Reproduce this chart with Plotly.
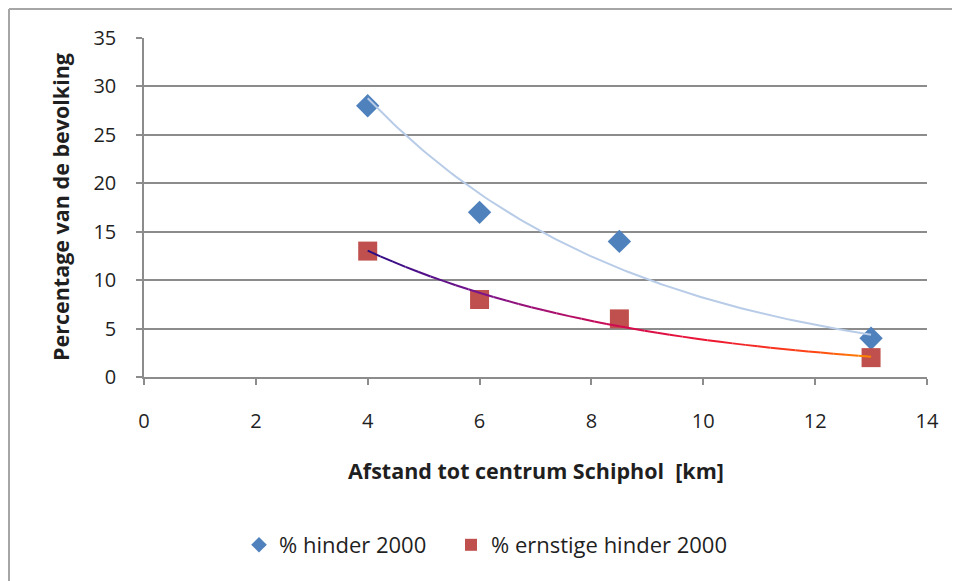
import numpy as np
import plotly.graph_objects as go

# Data
afstand = [4, 6, 8.5, 13]
hinder_2000 = [28, 17, 14, 4]
ernstige_hinder_2000 = [13, 8, 6, 2]
x_ticks = [0, 2, 4, 6, 8, 10, 12, 14]
y_ticks = [0, 5, 10, 15, 20, 25, 30, 35]

FONT = "Open Sans"
TXT = "#1f1f1f"

def exp_fit(x, y):
    x = np.asarray(x, float)
    b, a = np.polyfit(x, np.log(np.asarray(y, float)), 1)
    xs = np.linspace(x.min(), x.max(), 121)
    return xs, np.exp(a + b * xs)

fig = go.Figure()

fig.add_trace(go.Scatter(
    x=afstand, y=hinder_2000, mode="markers", name="% hinder 2000", legend="legend",
    marker=dict(symbol="diamond", size=18, color="#4F81BD"),
))
fig.add_trace(go.Scatter(
    x=afstand, y=ernstige_hinder_2000, mode="markers", name="% ernstige hinder 2000", legend="legend2",
    marker=dict(symbol="square", size=19, color="#C0504D"),
))

# Trendline hinder (light blue)
xs, ys = exp_fit(afstand, hinder_2000)
fig.add_trace(go.Scatter(x=xs, y=ys, mode="lines", showlegend=False,
                         line=dict(color="#B8CCE8", width=2), hoverinfo="skip"))

# Trendline ernstige hinder (gradient)
xs2, ys2 = exp_fit(afstand, ernstige_hinder_2000)
stops = [(0.0, (40, 10, 130)), (0.22, (120, 20, 140)), (0.5, (210, 10, 80)),
         (0.67, (235, 20, 50)), (0.89, (255, 70, 20)), (1.0, (255, 140, 0))]

def grad(t):
    for (t0, c0), (t1, c1) in zip(stops[:-1], stops[1:]):
        if t <= t1:
            f = (t - t0) / (t1 - t0)
            return "rgb(%d,%d,%d)" % tuple(round(c0[i] + f * (c1[i] - c0[i])) for i in range(3))
    return "rgb(%d,%d,%d)" % stops[-1][1]

nseg = 40
step = (len(xs2) - 1) // nseg
for k in range(nseg):
    i0, i1 = k * step, (k + 1) * step
    t = (k + 0.5) / nseg
    fig.add_trace(go.Scatter(x=xs2[i0:i1 + 1], y=ys2[i0:i1 + 1], mode="lines", showlegend=False,
                             line=dict(color=grad(t), width=2), hoverinfo="skip"))

W, H = 960, 581
L, R, T, B = 136, 41, 30, 212
pw, ph = W - L - R, H - T - B

def px_x(p):
    return (p - L) / pw

def px_y(p):
    return (H - B - p) / ph

leg_common = dict(orientation="h", xanchor="left", yanchor="middle",
                  font=dict(family=FONT, size=22, color=TXT), itemsizing="constant",
                  bgcolor="rgba(0,0,0,0)", itemclick=False)

fig.update_layout(
    width=W, height=H,
    margin=dict(l=L, r=R, t=T, b=B),
    paper_bgcolor="white", plot_bgcolor="white",
    font=dict(family=FONT, size=20, color=TXT),
    showlegend=True,
    legend=dict(x=px_x(231), y=px_y(537), **leg_common),
    legend2=dict(x=px_x(443), y=px_y(537), **leg_common),
    xaxis=dict(range=[0, 14], tickvals=x_ticks, showgrid=False, zeroline=False,
               showline=True, linecolor="#8c8c8c", linewidth=1.5,
               ticks="outside", ticklen=6, tickcolor="#8c8c8c", tickwidth=1.5,
               ticklabelstandoff=19, tickfont=dict(size=20, color=TXT)),
    yaxis=dict(range=[0, 35], tickvals=y_ticks, showgrid=True, gridcolor="#8c8c8c", gridwidth=1.5,
               zeroline=False, showline=True, linecolor="#8c8c8c", linewidth=1.5,
               ticks="outside", ticklen=6, tickcolor="#8c8c8c", tickwidth=1.5,
               ticklabelstandoff=16, tickfont=dict(size=20, color=TXT)),
    annotations=[
        dict(text="<b>Afstand tot centrum Schiphol  [km]</b>", x=px_x(528), y=px_y(462),
             xref="paper", yref="paper", showarrow=False, xanchor="center", yanchor="middle",
             font=dict(family=FONT, size=21.5, color=TXT)),
        dict(text="<b>Percentage van de bevolking</b>", x=px_x(52), y=px_y(199),
             xref="paper", yref="paper", showarrow=False, xanchor="center", yanchor="middle",
             textangle=-90, font=dict(family=FONT, size=21.5, color=TXT)),
    ],
    shapes=[
        dict(type="line", xref="paper", yref="paper", x0=px_x(1), x1=px_x(W + 5),
             y0=px_y(1), y1=px_y(1), line=dict(color="#a6a6a6", width=2)),
        dict(type="line", xref="paper", yref="paper", x0=px_x(1), x1=px_x(1),
             y0=px_y(1), y1=px_y(H + 5), line=dict(color="#a6a6a6", width=2)),
    ],
)

fig.write_html("out.html")
